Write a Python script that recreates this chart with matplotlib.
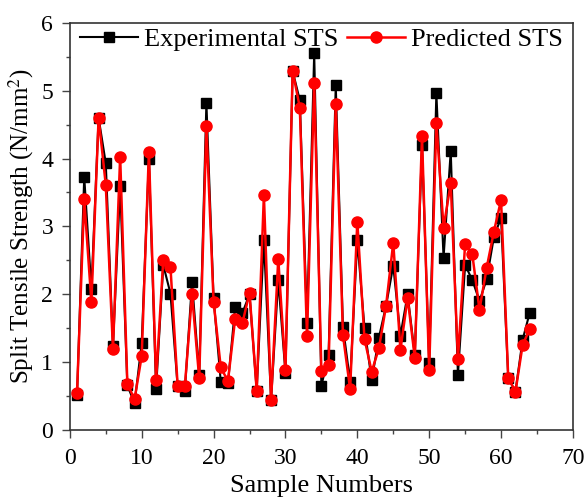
import numpy as np
import matplotlib
matplotlib.use("Agg")
import matplotlib.pyplot as plt
from matplotlib.ticker import MultipleLocator

plt.rcParams['font.family'] = ['Liberation Serif', 'DejaVu Serif']
plt.rcParams['mathtext.fontset'] = 'stix'

sample_no = np.arange(1, 65)

# experimental split tensile strength (N/mm2)
experimental = [0.51, 3.73, 2.07, 4.60, 3.93, 1.23, 3.59, 0.66, 0.39, 1.28,
                4.00, 0.61, 2.43, 2.01, 0.64, 0.58, 2.18, 0.81, 4.82, 1.94,
                0.71, 0.69, 1.81, 1.72, 2.00, 0.58, 2.80, 0.44, 2.21, 0.84,
                5.29, 4.86, 1.57, 5.55, 0.65, 1.10, 5.08, 1.52, 0.71, 2.80,
                1.50, 0.73, 1.36, 1.83, 2.42, 1.39, 2.00, 1.10, 4.20, 0.98,
                4.96, 2.54, 4.11, 0.81, 2.43, 2.21, 1.90, 2.22, 2.84, 3.13,
                0.77, 0.56, 1.33, 1.73]

# predicted split tensile strength (N/mm2)
predicted = [0.55, 3.40, 1.88, 4.60, 3.61, 1.19, 4.03, 0.68, 0.45, 1.09,
             4.10, 0.73, 2.51, 2.40, 0.65, 0.64, 2.00, 0.76, 4.48, 1.89,
             0.92, 0.72, 1.64, 1.57, 2.02, 0.58, 3.46, 0.44, 2.52, 0.88,
             5.29, 4.75, 1.38, 5.11, 0.87, 0.96, 4.80, 1.40, 0.60, 3.07,
             1.34, 0.86, 1.20, 1.83, 2.76, 1.18, 1.95, 1.06, 4.33, 0.88,
             4.53, 2.98, 3.64, 1.04, 2.74, 2.59, 1.77, 2.39, 2.92, 3.39,
             0.77, 0.56, 1.25, 1.49]

fig = plt.figure(figsize=(5.87, 4.97), dpi=100)
ax = fig.add_axes([0.119, 0.135, 0.857, 0.819])

ax.plot(sample_no, experimental, color='black', lw=1.5, marker='s', ms=7,
        label='Experimental STS')
ax.plot(sample_no, predicted, color='red', lw=1.8, marker='o', ms=8,
        label='Predicted STS')

ax.set_xlim(0, 70)
ax.set_ylim(0, 6)
ax.xaxis.set_major_locator(MultipleLocator(10))
ax.xaxis.set_minor_locator(MultipleLocator(5))
ax.yaxis.set_major_locator(MultipleLocator(1))
ax.yaxis.set_minor_locator(MultipleLocator(0.5))
ax.tick_params(which='both', direction='out', top=False, right=False,
               labelsize=17, color='#444444')
ax.tick_params(which='major', length=6, width=1)
ax.tick_params(which='minor', length=3, width=1)
ax.tick_params(axis='x', which='major', pad=7)
ax.tick_params(axis='y', which='major', pad=6)
for s in ax.spines.values():
    s.set_linewidth(1.2)
    s.set_color('#333333')

ax.set_xlabel('Sample Numbers', fontsize=19, labelpad=4)
ax.set_ylabel('Split Tensile Strength (N/mm$^2$)', fontsize=18, labelpad=4)

ax.legend(loc='upper center', ncol=2, frameon=False, fontsize=19,
          handlelength=2.2, handletextpad=0.25, columnspacing=0.3,
          borderaxespad=0.0, bbox_to_anchor=(0.5, 1.015))

fig.savefig('out.png', dpi=100)
